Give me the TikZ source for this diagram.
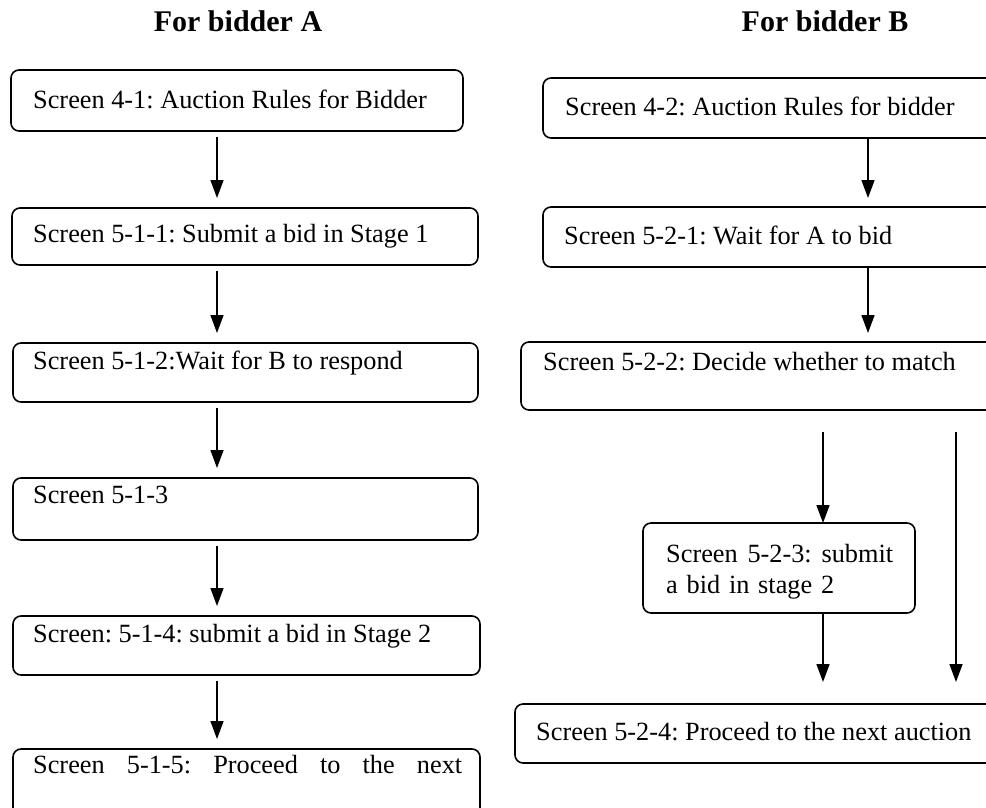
\documentclass[tikz,border=0pt]{standalone}
\usepackage{fontspec}
\setmainfont{Liberation Serif}
\usetikzlibrary{arrows.meta}
\frenchspacing

\begin{document}
\begin{tikzpicture}[
    x=1pt, y=-1pt,
    screen/.style n args={2}{
        draw,
        rounded corners=8pt,
        line width=1.6pt,
        minimum width=#1,
        minimum height=#2,
        inner sep=0pt,
        outer sep=0pt
    },
    txt/.style={font=\fontsize{26.3}{31}\selectfont, anchor=base west, inner sep=0pt},
    heading/.style={font=\fontsize{30}{34}\selectfont\bfseries, anchor=base},
    arr/.style={line width=1.5pt, -{Triangle[width=13pt,length=18pt]}}
]
\useasboundingbox (0,0) rectangle (986,807);
\clip (0,0) rectangle (986,807);

% ---- headings ----
\node[heading] (hA) at (238,31) {For bidder A};
\node[heading] (hB) at (825,31) {For bidder B};

% ---- arrow columns ----
\coordinate (colA) at (217,0);
\coordinate (colB) at (868,0);
\coordinate (colC) at (823,0);
\coordinate (colD) at (956,0);

% ---- bidder A screens ----
\node[screen={452pt}{61pt}] (L1) at (237,100.5) {};
\node[txt] at ([shift={(22,38)}]L1.north west) {Screen 4-1: Auction Rules for Bidder};

\node[screen={466pt}{57pt}] (L2) at (245,236.5) {};
\node[txt] at ([shift={(21,34)}]L2.north west) {Screen 5-1-1: Submit a bid in Stage 1};

\node[screen={465pt}{59pt}] (L3) at (245.5,372.5) {};
\node[txt] at ([shift={(20,26)}]L3.north west) {Screen 5-1-2:Wait for B to respond};

\node[screen={465pt}{62pt}] (L4) at (245.5,509) {};
\node[txt] at ([shift={(20,25)}]L4.north west) {Screen 5-1-3};

\node[screen={467pt}{59pt}] (L5) at (246.5,645.5) {};
\node[txt] at ([shift={(20,26)}]L5.north west) {Screen: 5-1-4: submit a bid in Stage 2};

\node[screen={467pt}{71pt}] (L6) at (246.5,784.5) {};
\node[txt, text width=429pt, align=left] at ([shift={(20,24)}]L6.north west)
    {Screen\hfill 5-1-5:\hfill Proceed\hfill to\hfill the\hfill next};

% ---- bidder B screens ----
\node[screen={457pt}{60pt}] (R1) at (771.5,108) {};
\node[txt] at ([shift={(22,37)}]R1.north west) {Screen 4-2: Auction Rules for bidder};

\node[screen={457pt}{60pt}] (R2) at (771.5,237) {};
\node[txt] at ([shift={(21,37)}]R2.north west) {Screen 5-2-1: Wait for A to bid};

\node[screen={479pt}{68pt}] (R3) at (760.5,376) {};
\node[txt] at ([shift={(22,28)}]R3.north west) {Screen 5-2-2: Decide whether to match};

\node[screen={272pt}{90pt}] (R4) at (779,568) {};
\node[txt, text width=227pt, align=left] at ([shift={(23,39)}]R4.north west)
    {Screen\hfill 5-2-3:\hfill submit\\a bid in stage 2};

\node[screen={485pt}{59pt}] (R5) at (757.5,733.5) {};
\node[txt] at ([shift={(21,36)}]R5.north west) {Screen 5-2-4: Proceed to the next auction};

% ---- connectors ----
\draw[arr, shorten <=6pt, shorten >=10pt] (L1.south -| colA) -- (L2.north -| colA);
\draw[arr, shorten <=6pt, shorten >=10pt] (L2.south -| colA) -- (L3.north -| colA);
\draw[arr, shorten <=6pt, shorten >=10pt] (L3.south -| colA) -- (L4.north -| colA);
\draw[arr, shorten <=6pt, shorten >=10pt] (L4.south -| colA) -- (L5.north -| colA);
\draw[arr, shorten <=6pt, shorten >=10pt] (L5.south -| colA) -- (L6.north -| colA);

\draw[arr, shorten >=9pt] (R1.south -| colB) -- (R2.north -| colB);
\draw[arr, shorten >=9pt] (R2.south -| colB) -- (R3.north -| colB);
\draw[arr, shorten <=22pt] (R3.south -| colC) -- (R4.north -| colC);
\draw[arr, shorten >=22pt] (R4.south -| colC) -- (R5.north -| colC);
\draw[arr, shorten <=22pt, shorten >=22pt] (R3.south -| colD) -- (R5.north -| colD);

\end{tikzpicture}
\end{document}
